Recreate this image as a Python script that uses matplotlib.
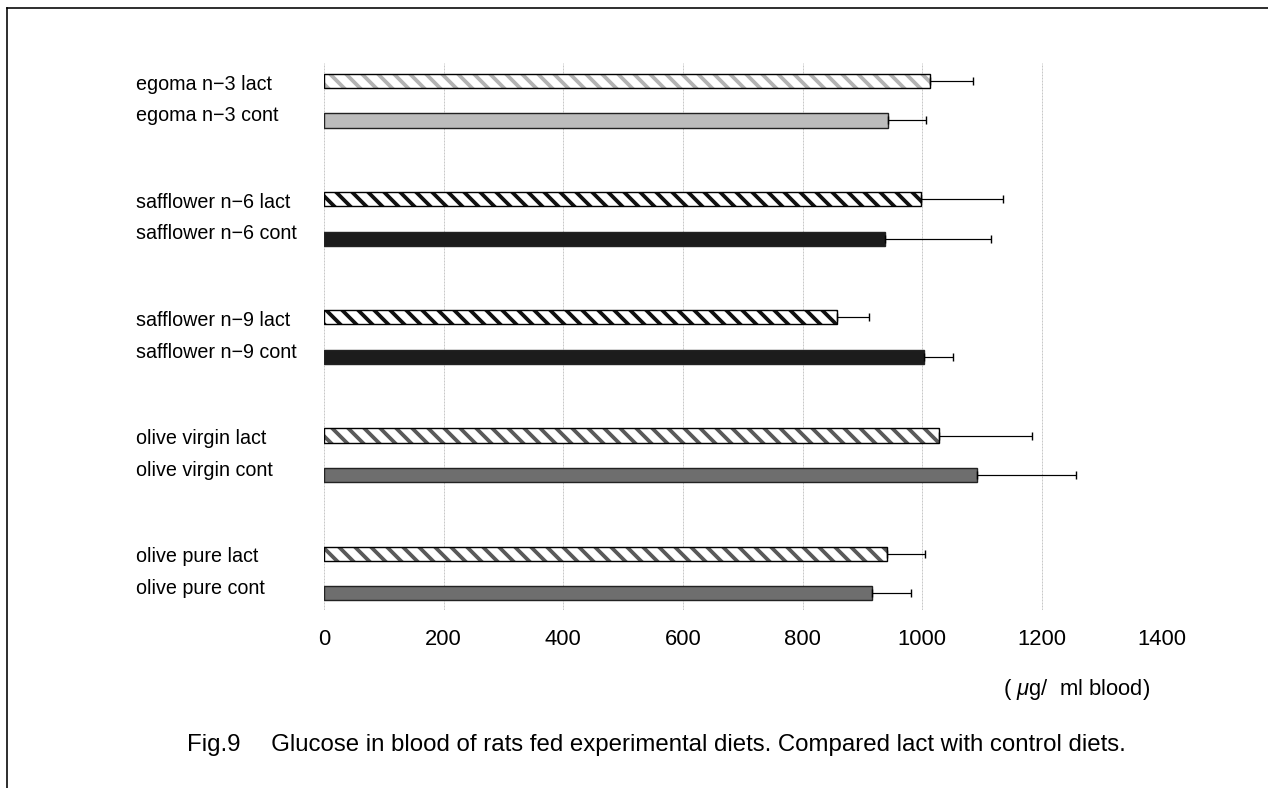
import matplotlib
matplotlib.use("Agg")
import matplotlib.pyplot as plt
from matplotlib.transforms import blended_transform_factory
import numpy as np

W, H, DPI = 1268, 788, 96


def px(v):
    """Convert a size in pixels to points for this figure resolution."""
    return v * 72.0 / DPI


plt.rcParams['font.family'] = ['Liberation Sans', 'DejaVu Sans']
plt.rcParams['mathtext.fontset'] = 'custom'
plt.rcParams['mathtext.it'] = 'Liberation Sans:italic'
plt.rcParams['hatch.linewidth'] = px(3.8)

# Groups from top to bottom; each has a "lact" and a "cont" diet
groups = ["egoma n\u22123", "safflower n\u22126", "safflower n\u22129",
          "olive virgin", "olive pure"]
lact_values = [1013, 998, 858, 1027, 941]
lact_errors = [72, 137, 53, 157, 63]
cont_values = [942, 938, 1002, 1091, 916]
cont_errors = [64, 176, 49, 165, 65]

x_ticks = [0, 200, 400, 600, 800, 1000, 1200, 1400]
unit_label = r"( $\mathit{\mu}$g/  ml blood)"
caption = ("Fig.9\u2003 Glucose in blood of rats fed experimental diets. "
           "Compared lact with control diets.")

# Fill styles per diet family: (lact hatch colour, cont fill colour)
lact_hatch_colors = ["#b4b4b4", "#111111", "#111111", "#5a5a5a", "#5a5a5a"]
cont_fill_colors = ["#bcbcbc", "#1c1c1c", "#1c1c1c", "#6e6e6e", "#6e6e6e"]

fig = plt.figure(figsize=(W / DPI, H / DPI), dpi=DPI)
ax = fig.add_axes([324 / W, 1 - 610 / H, (1161.7 - 324) / W, (610 - 63) / H])

n = len(groups)
lact_pos = np.arange(n) * 3.0
cont_pos = lact_pos + 1.0
bar_h = 0.36

for i in range(n):
    # hatched lact bar: stripes first, then a crisp black outline
    ax.barh(lact_pos[i], lact_values[i], height=bar_h, color="white",
            edgecolor=lact_hatch_colors[i], hatch="\\\\", linewidth=0,
            zorder=3)
    ax.barh(lact_pos[i], lact_values[i], height=bar_h, fill=False,
            edgecolor="black", linewidth=px(1.4), zorder=4)
    ax.barh(cont_pos[i], cont_values[i], height=bar_h,
            color=cont_fill_colors[i], edgecolor="#222222",
            linewidth=px(1.4), zorder=3)

for vals, pos, errs in ((lact_values, lact_pos, lact_errors),
                        (cont_values, cont_pos, cont_errors)):
    ax.errorbar(vals, pos, xerr=[np.zeros(n), errs], fmt="none",
                ecolor="black", elinewidth=px(1.2), capsize=px(4.2),
                capthick=px(1.4), zorder=5)

ax.set_xlim(0, 1400)
ax.set_ylim(3 * (n - 1) + 1 + 0.43, -0.46)
ax.set_xticks(x_ticks)
ax.set_xticklabels([str(t) for t in x_ticks], fontsize=px(22))
ax.tick_params(axis="x", length=0, pad=px(19))
ax.set_yticks([])
for s in ax.spines.values():
    s.set_visible(False)
ax.grid(axis="x", color="#c8c8c8", linestyle=(0, (2, 1)), linewidth=px(1.0),
        zorder=0)
ax.set_axisbelow(True)

# Row labels, left-aligned in the margin
lab_tr = blended_transform_factory(fig.transFigure, ax.transData)
for i, g in enumerate(groups):
    ax.text(136 / W, lact_pos[i] + 0.08, g + " lact", transform=lab_tr,
            ha="left", va="center", fontsize=px(19.7))
    ax.text(136 / W, cont_pos[i] - 0.12, g + " cont", transform=lab_tr,
            ha="left", va="center", fontsize=px(19.7))

fig.text(1150 / W, 1 - 690 / H, unit_label, ha="right", va="center",
         fontsize=px(22))
fig.text(656 / W, 1 - 745 / H, caption, ha="center", va="center",
         fontsize=px(24))

# frame lines along the top and left edges
fig.add_artist(plt.Line2D([7 / W, 1.0], [1 - 8 / H, 1 - 8 / H],
                          transform=fig.transFigure, color="black",
                          lw=px(1.6)))
fig.add_artist(plt.Line2D([7 / W, 7 / W], [1 - 8 / H, 0.0],
                          transform=fig.transFigure, color="black",
                          lw=px(1.6)))

fig.savefig("out.png", dpi=DPI)
